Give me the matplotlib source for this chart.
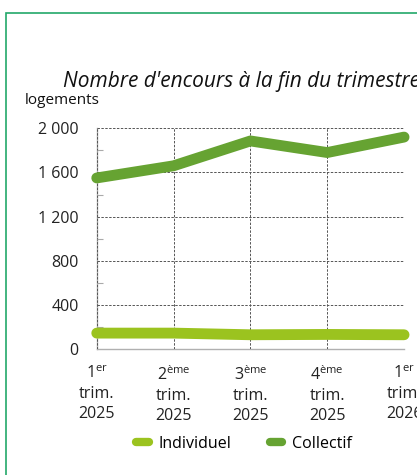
import matplotlib
matplotlib.use("Agg")
import matplotlib.pyplot as plt
from matplotlib.patches import Rectangle
from matplotlib.ticker import MultipleLocator, FuncFormatter

plt.rcParams['font.family'] = ['Open Sans', 'DejaVu Sans']
plt.rcParams['mathtext.fontset'] = 'custom'
plt.rcParams['mathtext.rm'] = 'Open Sans'

# Data
quarters = [r"1$^{\mathrm{er}}$" + "\ntrim.\n2025",
            r"2$^{\mathrm{ème}}$" + "\ntrim.\n2025",
            r"3$^{\mathrm{ème}}$" + "\ntrim.\n2025",
            r"4$^{\mathrm{ème}}$" + "\ntrim.\n2025",
            r"1$^{\mathrm{er}}$" + "\ntrim.\n2026"]
individuel = [145, 145, 130, 133, 130]
collectif = [1550, 1660, 1885, 1780, 1920]

c_ind = '#9bc31f'
c_col = '#66a332'

fig = plt.figure(figsize=(4.17, 4.75), dpi=100)
ax = fig.add_axes([0.232, 0.265, 0.737, 0.465])

x = range(len(quarters))
ax.plot(x, individuel, color=c_ind, lw=7.8, solid_capstyle='round', label='Individuel',
        zorder=5, clip_on=False)
ax.plot(x, collectif, color=c_col, lw=7.8, solid_capstyle='round', label='Collectif',
        zorder=5, clip_on=False)

ax.set_xlim(0, len(quarters) - 1)
ax.set_ylim(0, 2000)
ax.set_xticks(list(x))
ax.set_xticklabels(quarters, fontsize=11.5, color='#222222', linespacing=1.3)
ax.yaxis.set_major_locator(MultipleLocator(400))
ax.yaxis.set_minor_locator(MultipleLocator(200))
ax.yaxis.set_major_formatter(FuncFormatter(lambda v, p: f"{int(v):,}".replace(",", " ")))
ax.tick_params(axis='y', which='major', length=0, pad=13, labelsize=11.5, labelcolor='#222222')
ax.tick_params(axis='y', which='minor', length=4, direction='in', color='#aaaaaa', width=0.8)
ax.tick_params(axis='x', length=0, pad=12)

ax.grid(True, which='major', color='#555555', linestyle=(0, (2.5, 1.5)), linewidth=0.7, zorder=0)
for s in ['top', 'right']:
    ax.spines[s].set_visible(False)
for s in ['left', 'bottom']:
    ax.spines[s].set_color('#b0b0b0')
    ax.spines[s].set_linewidth(1.0)
    ax.spines[s].set_zorder(1)

fig.text(63 / 417, 1 - 87 / 475, "Nombre d'encours à la fin du trimestre",
         fontsize=15, style='italic', color='#111111', ha='left', va='baseline')
fig.text(25 / 417, 1 - 104 / 475, "logements", fontsize=11, color='#111111',
         ha='left', va='baseline')

leg = fig.legend(loc='center', bbox_to_anchor=(244 / 417, 1 - 444 / 475), ncol=2, frameon=False,
                 fontsize=11.5, handlelength=0.8, handletextpad=0.6, columnspacing=2.4)
for line in leg.get_lines():
    line.set_linewidth(6)
    line.set_solid_capstyle('round')

fig.patches.append(Rectangle((6 / 417, -0.1), 1.2, 1.1 - 13 / 475, transform=fig.transFigure,
                             fill=False, edgecolor='#22a86a', linewidth=1.2))

fig.savefig('out.png', dpi=100)
